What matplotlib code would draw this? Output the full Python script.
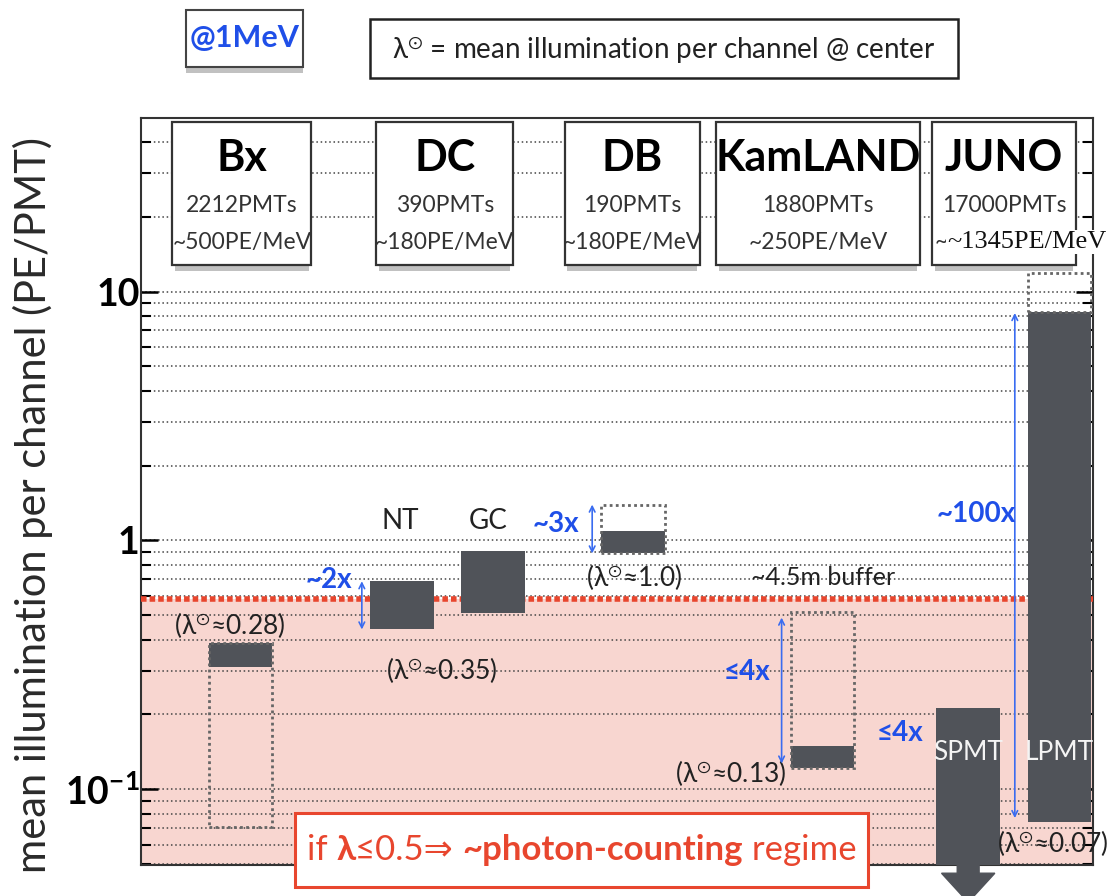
import numpy as np
import matplotlib
matplotlib.use('Agg')
import matplotlib.pyplot as plt
from matplotlib.patches import Rectangle, Polygon
from matplotlib.offsetbox import TextArea, HPacker, AnnotationBbox
from matplotlib.transforms import blended_transform_factory
from matplotlib.ticker import LogLocator, NullFormatter

plt.rcParams['font.family'] = ['Lato', 'DejaVu Sans']
plt.rcParams['mathtext.fontset'] = 'custom'
plt.rcParams['mathtext.rm'] = 'Lato'
plt.rcParams['mathtext.bf'] = 'Lato:bold'
plt.rcParams['mathtext.it'] = 'Lato:italic'
plt.rcParams['mathtext.fallback'] = 'stixsans'

# detector summary boxes
detectors = ['Bx', 'DC', 'DB', 'KamLAND', 'JUNO']
n_pmts = ['2212PMTs', '390PMTs', '190PMTs', '1880PMTs', '17000PMTs']
pe_per_mev = ['~500PE/MeV', '~180PE/MeV', '~180PE/MeV', '~250PE/MeV', '~1345PE/MeV']

# mean illumination per channel (PE/PMT), low / high edge of each band
bars = ['Bx', 'NT', 'GC', 'DB', 'KamLAND', 'SPMT', 'LPMT']
bar_low = [0.309, 0.439, 0.511, 0.887, 0.122, 0.03, 0.0741]
bar_high = [0.386, 0.686, 0.906, 1.09, 0.150, 0.212, 8.26]

# dotted boxes
ghosts = ['Bx', 'DB', 'KamLAND', 'LPMT']
ghost_low = [0.0706, 0.887, 0.122, 8.26]
ghost_high = [0.386, 1.394, 0.515, 11.86]

# lambda at center labels
lam_values = ['0.28', '0.35', '1.0', '0.13', '0.07']

# ratio arrows
ratio_text = ['~2x', '~3x', '≤4x', '~100x']
ratio_low = [0.439, 0.887, 0.127, 0.0767]
ratio_high = [0.686, 1.394, 0.49, 8.2]

threshold = 0.583
ylim = (0.0497, 49.8)

# ---- layout (x in 0..100 axis units) ----
bar_x = [10.45, 27.4, 37.0, 51.7, 71.6, 86.9, 96.5]
bar_w = 6.7
box_x0 = [3.3, 24.7, 44.5, 60.4, 83.1]
box_x1 = [17.9, 39.1, 58.7, 81.8, 98.2]
lam_pos = [(9.35, 0.456), (31.6, 0.301), (51.8, 0.71), (62.0, 0.116), (95.8, 0.0609)]
ratio_x = [23.2, 47.4, 67.3, 91.8]
ratio_pos = [(19.7, 0.691), (43.6, 1.17), (63.7, 0.295), (87.7, 1.28)]

dark = '#505359'
blue = '#1f4fe8'
arrow_blue = '#3a6cf0'
red = '#e8462e'
pink = '#f8d6d0'

fig = plt.figure(figsize=(11.12, 8.96), dpi=100)
ax = fig.add_axes([0.1268, 0.0346, 0.856, 0.8337])
ax.set_yscale('log')
ax.set_ylim(*ylim)
ax.set_xlim(0, 100)
ax.set_xticks([])

# photon-counting region
ax.axhspan(ylim[0], threshold, color=pink, zorder=0, lw=0)
ax.axhline(threshold, color=red, lw=4.0, dashes=(1.0, 0.55), zorder=3,
           solid_capstyle='butt', dash_capstyle='butt')

# dotted grid on every decade subdivision
ax.yaxis.set_major_locator(LogLocator(base=10, numticks=10))
ax.yaxis.set_minor_locator(LogLocator(base=10, subs=np.arange(2, 10), numticks=20))
ax.yaxis.set_minor_formatter(NullFormatter())
ax.grid(True, which='both', axis='y', color='#444444', lw=1.1,
        linestyle=(0, (1, 1.8)), zorder=1)
ax.set_axisbelow(True)
ax.tick_params(axis='y', which='major', direction='in', length=12, width=1.8,
               right=True, labelsize=27, pad=1)
ax.tick_params(axis='y', which='minor', direction='in', length=7, width=1.5,
               right=True)
ax.set_yticks([0.1, 1, 10])
ax.set_yticklabels([r'$\mathbf{10^{-1}}$', '1', '10'], fontweight='bold')
for s in ax.spines.values():
    s.set_color('#333333')
    s.set_linewidth(1.5)

# bands
for x, lo, hi in zip(bar_x, bar_low, bar_high):
    ax.bar(x, hi - lo, bottom=lo, width=bar_w, color=dark, zorder=4)

for name, lo, hi in zip(ghosts, ghost_low, ghost_high):
    x = bar_x[bars.index(name)]
    ax.add_patch(Rectangle((x - bar_w / 2, lo), bar_w, hi - lo, fill=False,
                           ec='#666666', lw=2, linestyle=(0, (1, 1.2)), zorder=5))

# SPMT continues below the axis
bt = blended_transform_factory(ax.transData, ax.transAxes)
sx = bar_x[bars.index('SPMT')]
ax.add_patch(Polygon([(sx - 1.15, 0), (sx + 1.15, 0), (sx + 1.15, -0.011),
                      (sx + 2.8, -0.011), (sx, -0.05), (sx - 2.8, -0.011),
                      (sx - 1.15, -0.011)], closed=True, transform=bt,
                     color=dark, clip_on=False, zorder=6))

# labels on / around the bands
ax.text(27.2, 1.2, 'NT', ha='center', va='center', fontsize=20, color='#222222')
ax.text(36.5, 1.2, 'GC', ha='center', va='center', fontsize=20, color='#222222')
ax.text(71.7, 0.71, '~4.5m buffer', ha='center', va='center', fontsize=18,
        color='#222222', zorder=6)
for name in ['SPMT', 'LPMT']:
    ax.text(bar_x[bars.index(name)], 0.141, name, ha='center', va='center',
            fontsize=19, color='#f4f4f4', zorder=6)

for (x, y), v in zip(lam_pos, lam_values):
    ax.text(x, y, r'(λ$^{\odot}$≈' + v + ')', ha='center', va='center',
            fontsize=19, color='#222222', zorder=6)

for xa, lo, hi in zip(ratio_x, ratio_low, ratio_high):
    ax.annotate('', xy=(xa, hi), xytext=(xa, lo),
                arrowprops=dict(arrowstyle='<->', color=arrow_blue, lw=1.2,
                                mutation_scale=10, shrinkA=0, shrinkB=0),
                zorder=6)
for (x, y), t in zip(ratio_pos, ratio_text):
    ax.text(x, y, t, ha='center', va='center', fontsize=20, fontweight='bold',
            color=blue, zorder=6)
ax.text(79.7, 0.169, '≤4x', ha='center', va='center', fontsize=20,
        fontweight='bold', color=blue, zorder=6)

# detector boxes across the top
for i, (name, npmt, pe) in enumerate(zip(detectors, n_pmts, pe_per_mev)):
    x0, x1 = box_x0[i], box_x1[i]
    xc = (x0 + x1) / 2
    ax.add_patch(Rectangle((x0 + 0.3, 0.795), x1 - x0 - 0.6, 0.012, transform=bt,
                           color='#777777', alpha=0.45, lw=0, zorder=7, clip_on=False))
    ax.add_patch(Rectangle((x0, 0.803), x1 - x0, 0.1916, transform=bt,
                           fc='white', ec='#333333', lw=1.6, zorder=8, clip_on=False))
    ax.text(xc, 0.946, name, transform=bt, ha='center', va='center',
            fontsize=31, fontweight='bold', color='black', zorder=9)
    ax.text(xc, 0.8835, npmt, transform=bt, ha='center', va='center',
            fontsize=16.5, color='#333333', zorder=9)
    if name == 'JUNO':
        ax.text(x0 + 0.3, 0.834, '~', transform=bt, ha='left', va='center',
                fontsize=16.5, color='#333333', zorder=9)
        ax.text(x0 + 1.6, 0.834, pe, transform=bt, ha='left', va='center',
                fontsize=19, family='Liberation Serif', color='#111111', zorder=10,
                bbox=dict(fc='white', ec='none', pad=1), clip_on=False)
    else:
        ax.text(xc, 0.834, pe, transform=bt, ha='center', va='center',
                fontsize=16.5, color='#333333', zorder=9)

# photon-counting statement
fig.patches.append(Rectangle((295 / 1112, 1 - 887 / 896), 573 / 1112, 74 / 896,
                             transform=fig.transFigure, fc='white', ec=red, lw=2.2,
                             zorder=10))
parts = [('if ', 'normal'), ('λ', 'bold'), ('≤0.5⇒ ', 'normal'),
         ('~photon-counting', 'bold'), (' regime', 'normal')]
areas = [TextArea(t, textprops=dict(color=red, fontsize=25, fontweight=w))
         for t, w in parts]
box = HPacker(children=areas, align='baseline', pad=0, sep=0)
ab = AnnotationBbox(box, (581.5 / 1112, 1 - 850 / 896), xycoords='figure fraction',
                    frameon=False, box_alignment=(0.5, 0.5),
                    zorder=11, annotation_clip=False)
fig.add_artist(ab)

# header boxes
fig.patches.append(Rectangle((0.1673, 0.919), 0.1052, 0.008, transform=fig.transFigure,
                             color='#777777', alpha=0.45, lw=0))
fig.patches.append(Rectangle((0.1673, 0.925), 0.1052, 0.0638, transform=fig.transFigure,
                             fc='white', ec='#444444', lw=1.5))
fig.text(0.2199, 0.9576, '@1MeV', ha='center', va='center', fontsize=22,
         fontweight='bold', color=blue)
fig.patches.append(Rectangle((0.3327, 0.913), 0.5288, 0.066, transform=fig.transFigure,
                             fc='white', ec='#222222', lw=1.8))
fig.text(0.597, 0.944, r'λ$^{\odot}$ = mean illumination per channel @ center',
         ha='center', va='center', fontsize=20, color='#222222')

fig.text(0.03, 1 - 505 / 896, 'mean illumination per channel (PE/PMT)',
         rotation=90, ha='center', va='center', fontsize=30,
         color='#2a2a2a')

fig.savefig('out.png', dpi=100)
